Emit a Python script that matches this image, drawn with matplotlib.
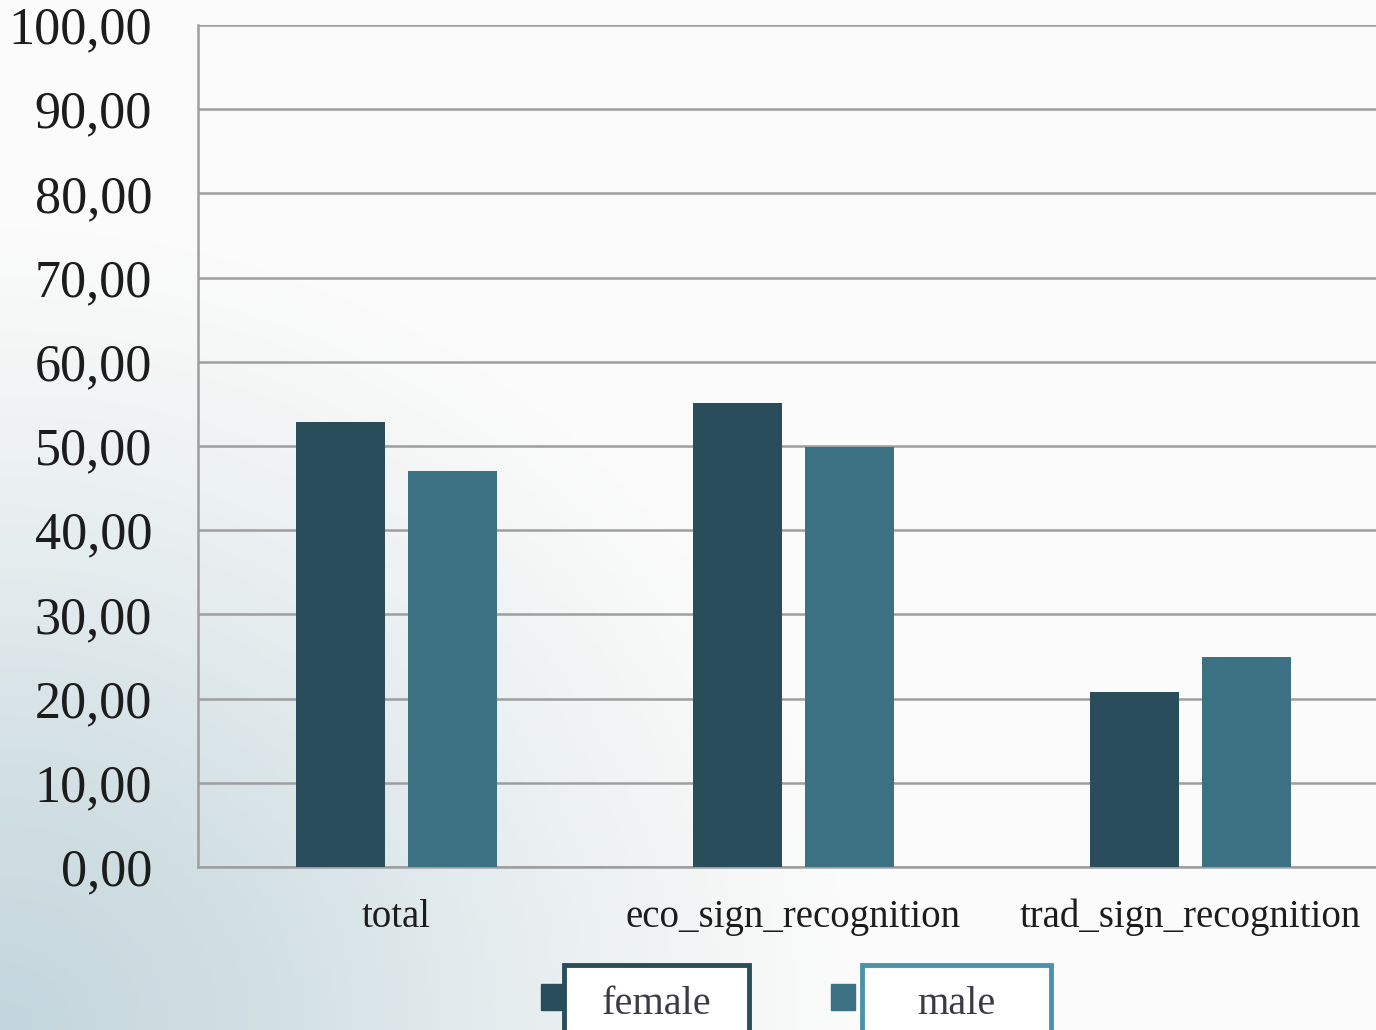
import numpy as np
import matplotlib
matplotlib.use("Agg")
import matplotlib.pyplot as plt
from matplotlib.patches import Rectangle
from matplotlib.colors import LinearSegmentedColormap
from matplotlib.ticker import FuncFormatter

categories = ["total", "eco_sign_recognition", "trad_sign_recognition"]
female = [52.9, 55.1, 20.8]
male = [47.0, 49.9, 25.0]
series_names = ["female", "male"]
y_ticks = [0, 10, 20, 30, 40, 50, 60, 70, 80, 90, 100]

FEMALE_COLOR = "#294d5a"
MALE_COLOR = "#3b7182"
MALE_EDGE = "#4b93a8"

plt.rcParams["font.family"] = ["Liberation Serif", "DejaVu Serif"]

fig = plt.figure(figsize=(13.76, 10.30), dpi=100)

# background gradient, bluish grey at lower left fading to white
bg = fig.add_axes([0, 0, 1, 1], zorder=-10)
yy, xx = np.mgrid[0:1:300j, 0:1:300j]
d = np.clip(np.sqrt((xx / 0.62) ** 2 + (yy / 0.78) ** 2), 0, 1)
cmap_bg = LinearSegmentedColormap.from_list(
    "bg", [(0, "#c3d6dd"), (0.35, "#d4e1e5"), (0.6, "#e6edef"), (0.85, "#f4f6f6"), (1, "#fbfbfb")])
bg.imshow(d, cmap=cmap_bg, origin="lower", extent=[0, 1, 0, 1], aspect="auto", vmin=0, vmax=1)
bg.axis("off")

ax = fig.add_axes([198 / 1376, 1 - 867 / 1030, 1 - 198 / 1376, (867 - 25) / 1030])
ax.set_facecolor("none")

x = np.arange(len(categories))
w = 0.224
off = 0.142
ax.bar(x - off, female, w, color=FEMALE_COLOR, zorder=3)
ax.bar(x + off, male, w, color=MALE_COLOR, zorder=3)

ax.set_xlim(-0.5, (1376 - 198) / 397 - 0.5)
ax.set_ylim(0, 100)
ax.set_yticks(y_ticks)
ax.yaxis.set_major_formatter(FuncFormatter(lambda v, p: f"{v:.2f}".replace(".", ",")))
ax.set_xticks(x)
ax.set_xticklabels(categories)
ax.grid(axis="y", color="#9e9e9e", linewidth=1.8, zorder=0)
ax.set_axisbelow(True)
for s in ["top", "right"]:
    ax.spines[s].set_visible(False)
ax.spines["left"].set_color("#9e9e9e")
ax.spines["left"].set_linewidth(1.8)
ax.spines["bottom"].set_color("#9e9e9e")
ax.spines["bottom"].set_linewidth(1.8)
ax.tick_params(axis="y", length=0, pad=33, labelsize=37.5, labelcolor="#1c1c1c")
ax.tick_params(axis="x", length=0, pad=23, labelsize=28, labelcolor="#1c1c1c")

# legend: swatch plus bordered box holding the label
def legend_entry(sx, bx, bw, color, edge, label):
    fig.patches.append(Rectangle((sx / 1376, 1 - 1010 / 1030), 24 / 1376, 26 / 1030,
                                 transform=fig.transFigure, color=color, zorder=5))
    fig.patches.append(Rectangle((bx / 1376, -0.01), bw / 1376, (1030 - 965) / 1030 + 0.01,
                                 transform=fig.transFigure, facecolor="white",
                                 edgecolor=edge, linewidth=3.5, zorder=6))
    fig.text((bx + bw / 2) / 1376, 1 - 1004 / 1030, label, ha="center", va="center",
             fontsize=29, color="#3e3a45", zorder=7)

legend_entry(541, 564, 185, FEMALE_COLOR, FEMALE_COLOR, series_names[0])
legend_entry(831, 862, 189, MALE_COLOR, MALE_EDGE, series_names[1])

fig.savefig("out.png", dpi=100)
